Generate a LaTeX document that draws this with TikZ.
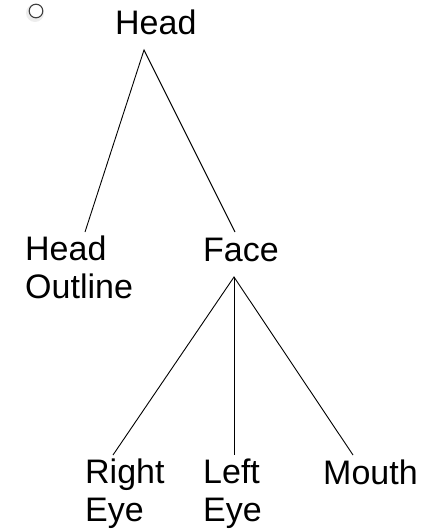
\documentclass[tikz,border=0pt]{standalone}
\usepackage{fontspec}
\setmainfont{Liberation Sans}
\begin{document}
\begin{tikzpicture}[x=1pt,y=-1pt,
  lbl/.style={font=\fontsize{34}{38}\selectfont, inner sep=0pt, anchor=base west, align=left},
  edge/.style={draw=black, line width=0.9pt}]
\useasboundingbox (0,0) rectangle (436,531);
% small circle with faint shadow
\fill[black!7] (35,13) circle (9);
\draw[black!75, line width=1.1pt, fill=white] (36,11) circle (6.8);
% labels
\node[lbl] (head) at (115,34) {Head};
\node[lbl] (outline) at (25,298) {Head\\Outline};
\node[lbl] (face) at (203,261) {Face};
\node[lbl] (reye) at (85,521) {Right\\Eye};
\node[lbl] (leye) at (203,521) {Left\\Eye};
\node[lbl] (mouth) at (323,484) {Mouth};
% connection points
\coordinate (headC) at (144,50);
\coordinate (outlineC) at (85,232);
\coordinate (faceIn) at (235,232);
\coordinate (faceC) at (234,277);
\coordinate (reyeC) at (113,455);
\coordinate (leyeC) at (234,455);
\coordinate (mouthC) at (353,455);
\draw[edge] (outlineC) -- (headC) -- (faceIn);
\draw[edge] (reyeC) -- (faceC) -- (mouthC);
\draw[edge] (faceC) -- (leyeC);
\end{tikzpicture}
\end{document}
